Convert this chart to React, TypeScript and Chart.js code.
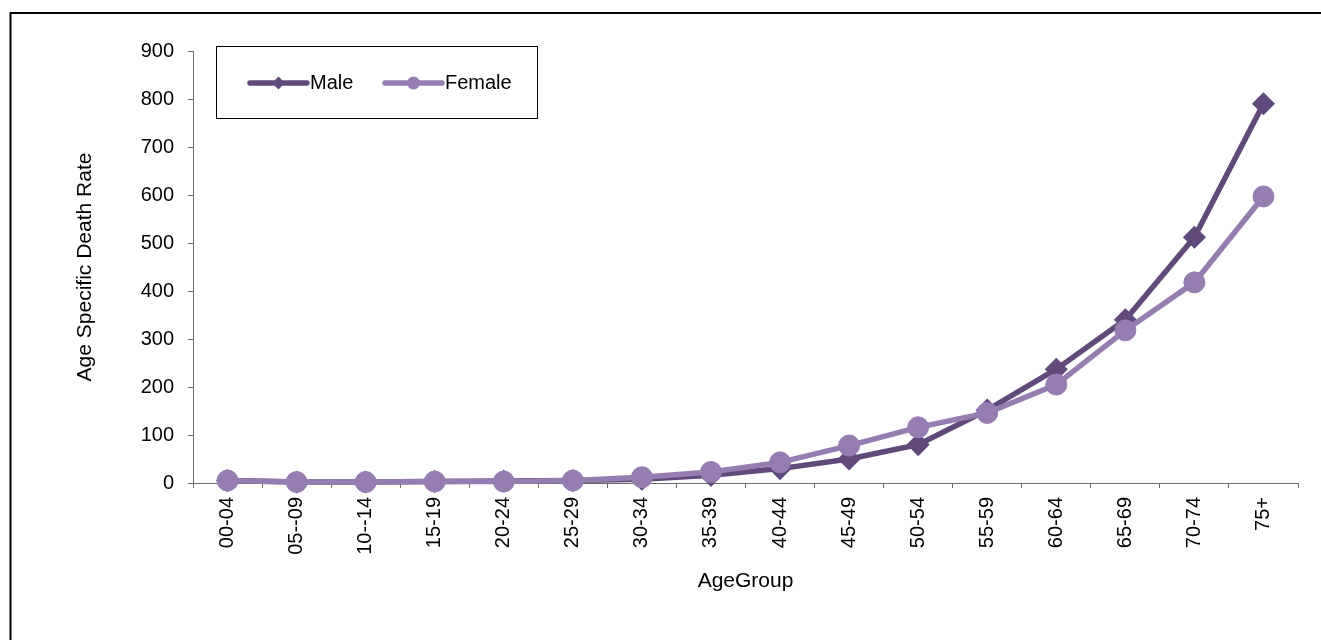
import React, { useEffect, useRef } from 'react';
import { Chart, registerables } from 'chart.js';

Chart.register(...registerables);

const categories = ['00-04', '05--09', '10--14', '15-19', '20-24', '25-29', '30-34', '35-39', '40-44', '45-49', '50-54', '55-59', '60-64', '65-69', '70-74', '75+'];
const maleValues = [5, 2, 2, 3, 4, 5, 8, 16, 30, 50, 80, 152, 237, 340, 512, 790];
const femaleValues = [5, 2, 2, 3, 3, 5, 12, 23, 43, 78, 116, 146, 205, 318, 418, 597];
const seriesNames = ['Male', 'Female'];
const yMin = 0;
const yMax = 900;
const yStep = 100;
const xTitle = 'AgeGroup';
const yTitle = 'Age Specific Death Rate';

const MALE_COLOR = '#604A7B';
const FEMALE_COLOR = '#957DB1';
const AXIS_COLOR = '#6a6a6a';
const FONT = '"Liberation Sans", Arial, sans-serif';

const W = 1321;
const H = 640;

function drawDiamond(ctx: CanvasRenderingContext2D, x: number, y: number, r: number) {
  ctx.beginPath();
  ctx.moveTo(x, y - r);
  ctx.lineTo(x + r, y);
  ctx.lineTo(x, y + r);
  ctx.lineTo(x - r, y);
  ctx.closePath();
  ctx.fill();
}

const framePlugin = {
  id: 'frame',
  beforeDraw(chart: any) {
    const ctx = chart.ctx as CanvasRenderingContext2D;
    ctx.save();
    ctx.fillStyle = '#ffffff';
    ctx.fillRect(0, 0, chart.width, chart.height);
    ctx.strokeStyle = '#000000';
    ctx.lineWidth = 2;
    ctx.strokeRect(10.5, 13, chart.width + 40, chart.height + 40);
    ctx.restore();
  },
};

const boxLegendPlugin = {
  id: 'boxLegend',
  afterDraw(chart: any) {
    const ctx = chart.ctx as CanvasRenderingContext2D;
    ctx.save();
    ctx.strokeStyle = '#000000';
    ctx.lineWidth = 1;
    ctx.strokeRect(216.5, 46.5, 321, 72);
    const entries = [
      { x0: 250, x1: 307, tx: 310, style: 'diamond' },
      { x0: 385, x1: 442, tx: 445, style: 'circle' },
    ];
    const y = 83;
    chart.data.datasets.forEach((ds: any, i: number) => {
      const e = entries[i];
      ctx.strokeStyle = ds.borderColor;
      ctx.fillStyle = ds.borderColor;
      ctx.lineWidth = 5.5;
      ctx.lineCap = 'round';
      ctx.beginPath();
      ctx.moveTo(e.x0, y);
      ctx.lineTo(e.x1, y);
      ctx.stroke();
      const cx = (e.x0 + e.x1) / 2;
      if (e.style === 'diamond') {
        drawDiamond(ctx, cx, y, 6.5);
      } else {
        ctx.beginPath();
        ctx.arc(cx, y, 6.5, 0, Math.PI * 2);
        ctx.fill();
      }
      ctx.fillStyle = '#000000';
      ctx.font = `20px ${FONT}`;
      ctx.textAlign = 'left';
      ctx.textBaseline = 'middle';
      ctx.fillText(ds.label, e.tx, y);
    });
    ctx.restore();
  },
};

export default function App() {
  const canvasRef = useRef<HTMLCanvasElement | null>(null);

  useEffect(() => {
    const canvas = canvasRef.current;
    if (!canvas) return;
    const chart = new Chart(canvas, {
      type: 'line',
      data: {
        labels: categories,
        datasets: [
          {
            label: seriesNames[0],
            data: maleValues,
            borderColor: MALE_COLOR,
            backgroundColor: MALE_COLOR,
            borderWidth: 5.5,
            pointStyle: 'rectRot',
            pointRadius: 10.5,
            pointBorderWidth: 1.5,
            pointBackgroundColor: MALE_COLOR,
            pointBorderColor: MALE_COLOR,
            tension: 0,
            clip: false as any,
            order: 1,
          },
          {
            label: seriesNames[1],
            data: femaleValues,
            borderColor: FEMALE_COLOR,
            backgroundColor: FEMALE_COLOR,
            borderWidth: 5.5,
            pointStyle: 'circle',
            pointRadius: 10.5,
            pointBorderWidth: 1,
            pointBackgroundColor: FEMALE_COLOR,
            pointBorderColor: FEMALE_COLOR,
            tension: 0,
            clip: false as any,
            order: 0,
          },
        ],
      },
      options: {
        responsive: false,
        animation: false,
        devicePixelRatio: 1,
        layout: { padding: { left: 0, right: 23, top: 51, bottom: 0 } },
        plugins: {
          legend: { display: false },
          tooltip: { enabled: false },
          title: { display: false },
        },
        scales: {
          x: {
            type: 'category',
            offset: true,
            grid: {
              display: true,
              offset: true,
              drawOnChartArea: false,
              drawTicks: true,
              tickLength: 5,
              color: AXIS_COLOR,
              lineWidth: 1,
            },
            border: { display: true, color: AXIS_COLOR, width: 1 },
            ticks: {
              autoSkip: false,
              minRotation: 90,
              maxRotation: 90,
              padding: 9,
              color: '#000000',
              font: { family: FONT, size: 20 },
            },
            title: {
              display: true,
              text: xTitle,
              color: '#000000',
              font: { family: FONT, size: 21 },
              padding: { top: 0, bottom: 46 },
            },
            afterFit(scale: any) {
              scale.height = 157;
            },
          },
          y: {
            type: 'linear',
            min: yMin,
            max: yMax,
            grid: {
              display: true,
              drawOnChartArea: false,
              drawTicks: true,
              tickLength: 5,
              color: AXIS_COLOR,
              lineWidth: 1,
            },
            border: { display: true, color: AXIS_COLOR, width: 1 },
            ticks: {
              stepSize: yStep,
              padding: 14,
              color: '#000000',
              font: { family: FONT, size: 20 },
            },
            title: {
              display: true,
              text: yTitle,
              color: '#000000',
              font: { family: FONT, size: 21 },
              padding: { top: 73, bottom: 0 },
            },
            afterFit(scale: any) {
              scale.width = 193;
            },
          },
        },
      },
      plugins: [framePlugin, boxLegendPlugin],
    });
    return () => {
      chart.destroy();
    };
  }, []);

  return (
    <canvas
      ref={canvasRef}
      width={W}
      height={H}
      style={{ position: 'absolute', left: 0, top: 0, width: W, height: H, display: 'block' }}
    />
  );
}
